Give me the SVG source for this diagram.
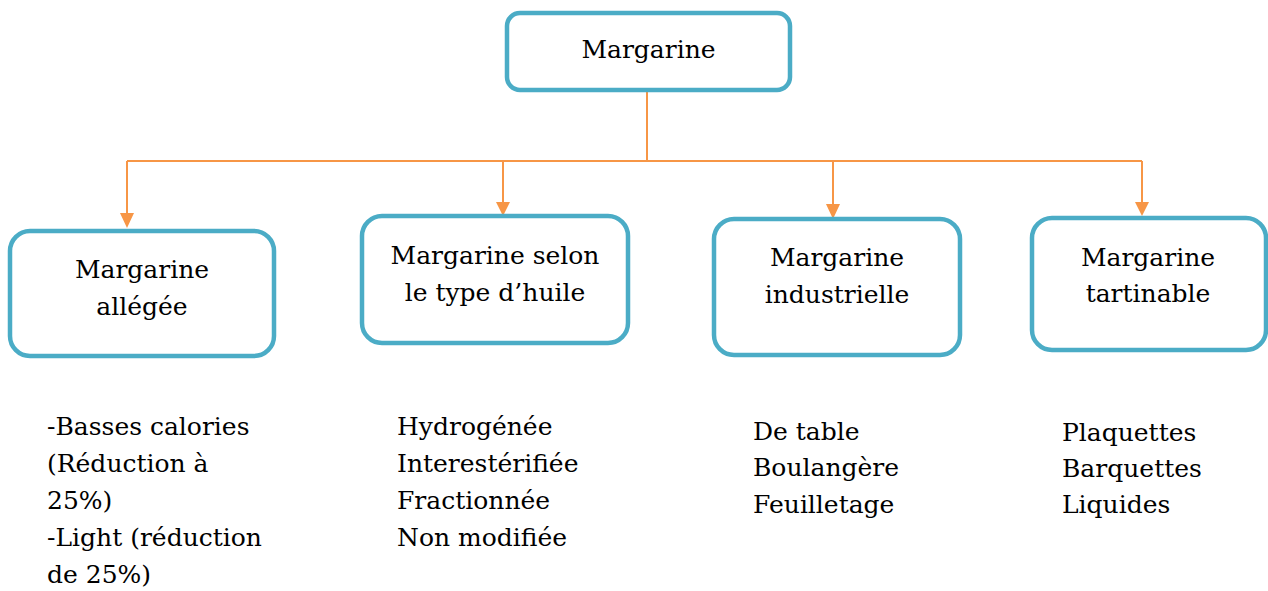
<svg xmlns="http://www.w3.org/2000/svg" width="1268" height="591" viewBox="0 0 1268 591">
<style>
.box{fill:#fff;stroke:#4BACC6;stroke-width:4.5}
.t{font-family:'DejaVu Serif','Liberation Serif','Times New Roman',serif;font-size:25px;fill:#000}
.c{text-anchor:middle}
.ln{fill:none;stroke:#F79646;stroke-width:2}
.ah{fill:#F79646}
</style>
<rect width="1268" height="591" fill="#fff"/>
<g id="connectors">
<path class="ln" d="M647,92 V161"/>
<path class="ln" d="M127,161 H1142"/>
<path d="M127,161 V214" class="ln"/>
<path d="M503,161 V202" class="ln"/>
<path d="M833,161 V205" class="ln"/>
<path d="M1142,161 V202" class="ln"/>
<polygon class="ah" points="120,213 134,213 127,228"/>
<polygon class="ah" points="496,202 510,202 503,216"/>
<polygon class="ah" points="826,204 840,204 833,219"/>
<polygon class="ah" points="1135,202 1149,202 1142,216"/>
</g>
<g id="margarine">
<rect class="box" x="507" y="13" width="283" height="77" rx="13"/>
<text class="t c" x="648.5" y="58">Margarine</text>
</g>
<g id="allegee">
<rect class="box" x="10" y="231" width="264" height="125" rx="20"/>
<text class="t c" x="142" y="278">Margarine</text>
<text class="t c" x="142" y="315">allégée</text>
</g>
<g id="huile">
<rect class="box" x="362" y="216" width="266" height="127" rx="20"/>
<text class="t c" x="495" y="264">Margarine selon</text>
<text class="t c" x="495" y="301">le type d’huile</text>
</g>
<g id="industrielle">
<rect class="box" x="714" y="219" width="246" height="136" rx="20"/>
<text class="t c" x="837" y="266">Margarine</text>
<text class="t c" x="837" y="303">industrielle</text>
</g>
<g id="tartinable">
<rect class="box" x="1032" y="218" width="234" height="132" rx="20"/>
<text class="t c" x="1148" y="266">Margarine</text>
<text class="t c" x="1148" y="302">tartinable</text>
</g>
<g id="list-allegee">
<text class="t" x="47" y="435">-Basses calories</text>
<text class="t" x="47" y="472">(Réduction à</text>
<text class="t" x="47" y="509">25%)</text>
<text class="t" x="47" y="546">-Light (réduction</text>
<text class="t" x="47" y="583">de 25%)</text>
</g>
<g id="list-huile">
<text class="t" x="397" y="435">Hydrogénée</text>
<text class="t" x="397" y="472">Interestérifiée</text>
<text class="t" x="397" y="509">Fractionnée</text>
<text class="t" x="397" y="546">Non modifiée</text>
</g>
<g id="list-industrielle">
<text class="t" x="753" y="440">De table</text>
<text class="t" x="753" y="476">Boulangère</text>
<text class="t" x="753" y="513">Feuilletage</text>
</g>
<g id="list-tartinable">
<text class="t" x="1062" y="441">Plaquettes</text>
<text class="t" x="1062" y="477">Barquettes</text>
<text class="t" x="1062" y="513">Liquides</text>
</g>
</svg>
